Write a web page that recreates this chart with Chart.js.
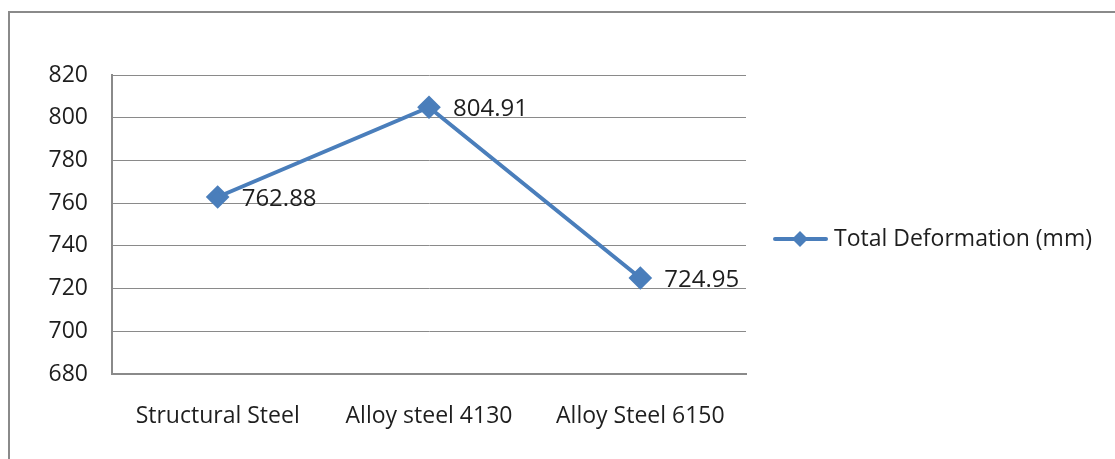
<!DOCTYPE html>
<html>
<head>
<meta charset="utf-8">
<script src="https://cdn.jsdelivr.net/npm/chart.js@4"></script>
<style>
  html, body { margin: 0; padding: 0; background: #fff; }
  #wrap { width: 1115px; height: 459px; position: relative; }
</style>
</head>
<body>
<div id="wrap"><canvas id="line-chart"></canvas></div>
<script>
// datos del grafico
const materials = ["Structural Steel", "Alloy steel 4130", "Alloy Steel 6150"];
const deformation = [762.88, 804.91, 724.95];
const seriesName = "Total Deformation (mm)";
const yTicks = [680, 700, 720, 740, 760, 780, 800, 820];

const lineColor = "#4a7ebb";
const textColor = "#1e1e1e";
const fontFamily = "'Open Sans', 'Noto Sans', sans-serif";

// marco exterior, etiquetas de valores y leyenda
const extras = {
  id: "extras",
  beforeDraw(chart) {
    const ctx = chart.ctx;
    ctx.save();
    ctx.strokeStyle = "#8a8a8a";
    ctx.lineWidth = 2;
    ctx.strokeRect(9, 12, 1120, 460);
    ctx.restore();
  },
  afterDatasetsDraw(chart) {
    const ctx = chart.ctx;
    const meta = chart.getDatasetMeta(0);
    ctx.save();
    ctx.fillStyle = textColor;
    ctx.font = "24px " + fontFamily;
    ctx.textBaseline = "middle";
    ctx.textAlign = "left";
    meta.data.forEach((pt, i) => {
      ctx.fillText(deformation[i].toFixed(2), pt.x + 24, pt.y + 2);
    });

    // leyenda
    const ly = 239;
    ctx.strokeStyle = lineColor;
    ctx.lineWidth = 4;
    ctx.lineCap = "round";
    ctx.beginPath();
    ctx.moveTo(775, ly);
    ctx.lineTo(826, ly);
    ctx.stroke();
    ctx.fillStyle = lineColor;
    ctx.beginPath();
    ctx.moveTo(800, ly - 8);
    ctx.lineTo(808, ly);
    ctx.lineTo(800, ly + 8);
    ctx.lineTo(792, ly);
    ctx.closePath();
    ctx.fill();
    ctx.fillStyle = textColor;
    ctx.font = "23px " + fontFamily;
    ctx.fillText(seriesName, 834, ly);
    ctx.restore();
  }
};

const ctxLine = document.querySelector("#line-chart").getContext("2d");

const lineChart = new Chart(ctxLine, {
  type: "line",
  data: {
    labels: materials,
    datasets: [
      {
        label: seriesName,
        data: deformation,
        borderColor: lineColor,
        backgroundColor: lineColor,
        borderWidth: 4,
        pointStyle: "rectRot",
        pointRadius: 9,
        pointHoverRadius: 9,
        tension: 0,
      },
    ],
  },
  options: {
    responsive: true,
    maintainAspectRatio: false,
    animation: false,
    devicePixelRatio: 1,
    layout: { padding: { top: 75, right: 369, bottom: 0, left: 0 } },
    plugins: {
      legend: { display: false },
      tooltip: { enabled: false },
    },
    scales: {
      x: {
        offset: true,
        grid: { display: false, drawTicks: false },
        border: { display: true, color: "#8a8a8a", width: 2 },
        ticks: {
          color: textColor,
          font: { family: fontFamily, size: 23 },
          padding: 29,
          maxRotation: 0,
        },
        afterFit(scale) { scale.height = 85; },
      },
      y: {
        min: 680,
        max: 820,
        afterBuildTicks(scale) {
          scale.ticks = yTicks.map(v => ({ value: v }));
        },
        grid: { color: "#8a8a8a", lineWidth: 1, drawTicks: false },
        border: { display: true, color: "#8a8a8a", width: 2 },
        ticks: {
          color: textColor,
          font: { family: fontFamily, size: 23 },
          padding: 24,
        },
        afterFit(scale) { scale.width = 112; },
      },
    },
  },
  plugins: [extras],
});
</script>
</body>
</html>
